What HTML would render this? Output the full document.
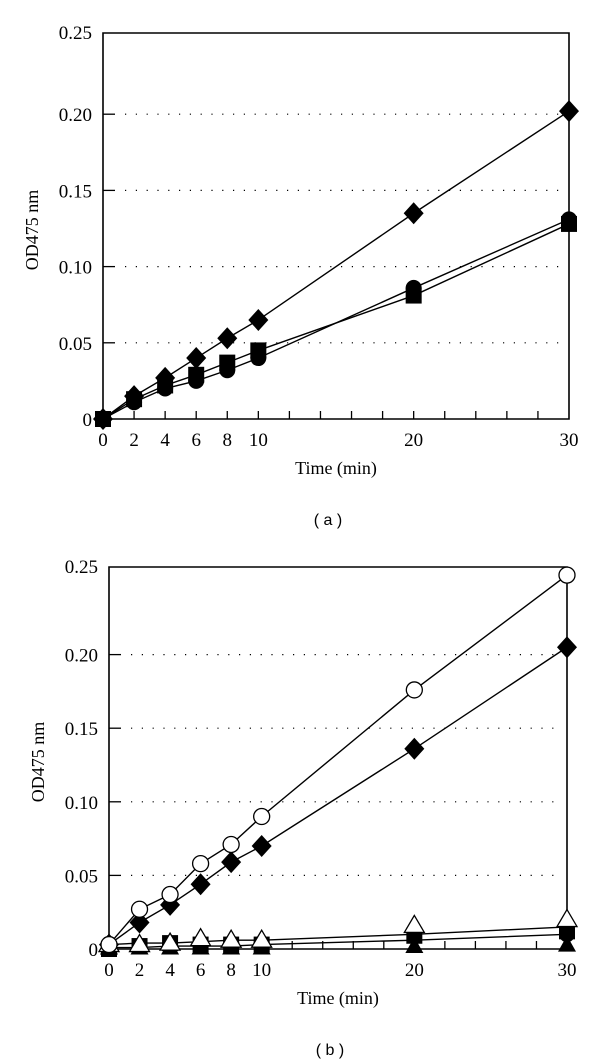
<!DOCTYPE html>
<html><head><meta charset="utf-8"><style>
body{margin:0;background:#fff;}
svg{display:block;font-family:"Liberation Serif",serif;}
</style></head><body>
<svg id="s" width="600" height="1062" viewBox="0 0 600 1062" xmlns="http://www.w3.org/2000/svg"></svg>
<script>
const xTimes=[0,2,4,6,8,10,20,30];
const yTicks=[0,0.05,0.10,0.15,0.20,0.25];
const yTickLabels=["0","0.05","0.10","0.15","0.20","0.25"];
const xTickLabels=["0","2","4","6","8","10","20","30"];
const aDiamond=[0,0.015,0.027,0.040,0.053,0.065,0.135,0.202];
const aSquare=[0,0.013,0.022,0.029,0.037,0.045,0.081,0.128];
const aCircle=[0,0.011,0.020,0.025,0.032,0.040,0.086,0.131];
const bOpenCircle=[0.003,0.027,0.037,0.058,0.071,0.090,0.176,0.254];
const bDiamond=[0.003,0.018,0.030,0.044,0.059,0.070,0.136,0.205];
const bOpenTri=[0.003,0.003,0.004,0.007,0.006,0.006,0.016,0.020];
const bCircle=[0.003,0.002,0.003,0.004,0.004,0.004,0.012,0.010];
const bSquare=[0.000,0.002,0.004,0.003,0.003,0.003,0.009,0.012];
const bTri=[0.001,0.001,0.001,0.001,0.001,0.001,0.002,0.003];
const bLineHi=[0.003,0.004,0.004,0.005,0.006,0.006,0.010,0.015];
const bLineLo=[0.001,0.001,0.002,0.002,0.002,0.003,0.006,0.010];

const NS="http://www.w3.org/2000/svg";
const svg=document.getElementById('s');
function el(t,a,p){const e=document.createElementNS(NS,t);for(const k in a)e.setAttribute(k,a[k]);(p||svg).appendChild(e);return e;}

function panel(cfg){
  const g=el('g',{});
  
  
  const X=v=>cfg.x0+(cfg.x1-cfg.x0)*v/30;
  const Y=v=>cfg.y0-(cfg.y0-cfg.y25)*v/0.25;
  yTicks.forEach((v,i)=>{
    const y=Y(v);
    if(i>0&&i<5){const gl=el('line',{x1:cfg.x0+22,x2:cfg.x1-4,y1:y,y2:y,stroke:'#000','stroke-width':1.2,'stroke-dasharray':'1.2 9.6'},g);
      }
    if(i>0&&i<5){const tk=el('line',{x1:cfg.x0,x2:cfg.x0+12,y1:y,y2:y,stroke:'#000','stroke-width':1.3},g);
      }
    const ly=i===5?cfg.top+6:y+7;
    const t=el('text',{x:cfg.x0-11,y:ly,'text-anchor':'end','font-size':19},g);
    
    t.textContent=yTickLabels[i];
  });
  for(let m=2;m<30;m+=2){const tk=el('line',{x1:X(m),x2:X(m),y1:cfg.y0,y2:cfg.y0-8,stroke:'#000','stroke-width':1.3},g);
    }
  xTimes.forEach((v,i)=>{const t=el('text',{x:X(v),y:cfg.y0+27,'text-anchor':'middle','font-size':19},g);
    t.textContent=xTickLabels[i];});
  const fr=el('path',{d:`M${cfg.x0},${cfg.top}H${cfg.x1}V${cfg.y0}H${cfg.x0}Z`,fill:'none',stroke:'#000','stroke-width':1.6},g);
  
  const yl=el('text',{transform:`translate(${cfg.x0-65},${(cfg.top+cfg.y0)/2+4}) rotate(-90)`,'text-anchor':'middle','font-size':18},g);
  yl.textContent='OD475 nm';
  const xl=el('text',{x:(cfg.x0+cfg.x1)/2,y:cfg.y0+55,'text-anchor':'middle','font-size':18},g);
  xl.textContent='Time (min)';
  const cap=el('text',{x:(cfg.x0+cfg.x1)/2-8,y:cfg.y0+106,'text-anchor':'middle','font-size':16,'font-family':'Liberation Sans,sans-serif'},g);
  cap.textContent=cfg.caption;
  cfg.lines.forEach(d=>{const p=el('polyline',{points:d.map((v,i)=>X(xTimes[i])+','+Y(v)).join(' '),fill:'none',stroke:'#000','stroke-width':1.4},g);
    });
  cfg.series.forEach(s=>{
    s.data.forEach((v,i)=>{
      const x=X(xTimes[i]),y=Y(v);let m;
      if(s.shape==='diamond')m=el('path',{d:`M${x},${y-11}L${x+10},${y}L${x},${y+11}L${x-10},${y}Z`,fill:'#000'},g);
      else if(s.shape==='square')m=el('rect',{x:x-8,y:y-8,width:16,height:16,fill:'#000'},g);
      else if(s.shape==='circle')m=el('circle',{cx:x,cy:y,r:8,fill:'#000'},g);
      else if(s.shape==='ocircle')m=el('circle',{cx:x,cy:y,r:8,fill:'#fff',stroke:'#000','stroke-width':1.3},g);
      else if(s.shape==='tri')m=el('path',{d:`M${x},${y-9}L${x+9},${y+7}L${x-9},${y+7}Z`,fill:'#000'},g);
      else m=el('path',{d:`M${x},${y-10}L${x+10},${y+7}L${x-10},${y+7}Z`,fill:'#fff',stroke:'#000','stroke-width':1.3},g);
      
    });
  });
}
panel({name:'panel-a',caption:'( a )',x0:103,x1:569,y0:419,y25:38,top:33,
  lines:[aDiamond,aSquare,aCircle],
  series:[{name:'point-diamond',shape:'diamond',data:aDiamond},{name:'point-circle',shape:'circle',data:aCircle},{name:'point-square',shape:'square',data:aSquare}]});
panel({name:'panel-b',caption:'( b )',x0:109,x1:567,y0:949,y25:581,top:567,
  lines:[bOpenCircle,bDiamond,bLineHi,bLineLo],
  series:[{name:'point-filled-triangle',shape:'tri',data:bTri},{name:'point-square',shape:'square',data:bSquare},{name:'point-circle',shape:'circle',data:bCircle},{name:'point-open-triangle',shape:'otri',data:bOpenTri},{name:'point-diamond',shape:'diamond',data:bDiamond},{name:'point-open-circle',shape:'ocircle',data:bOpenCircle}]});
</script>
</body></html>
